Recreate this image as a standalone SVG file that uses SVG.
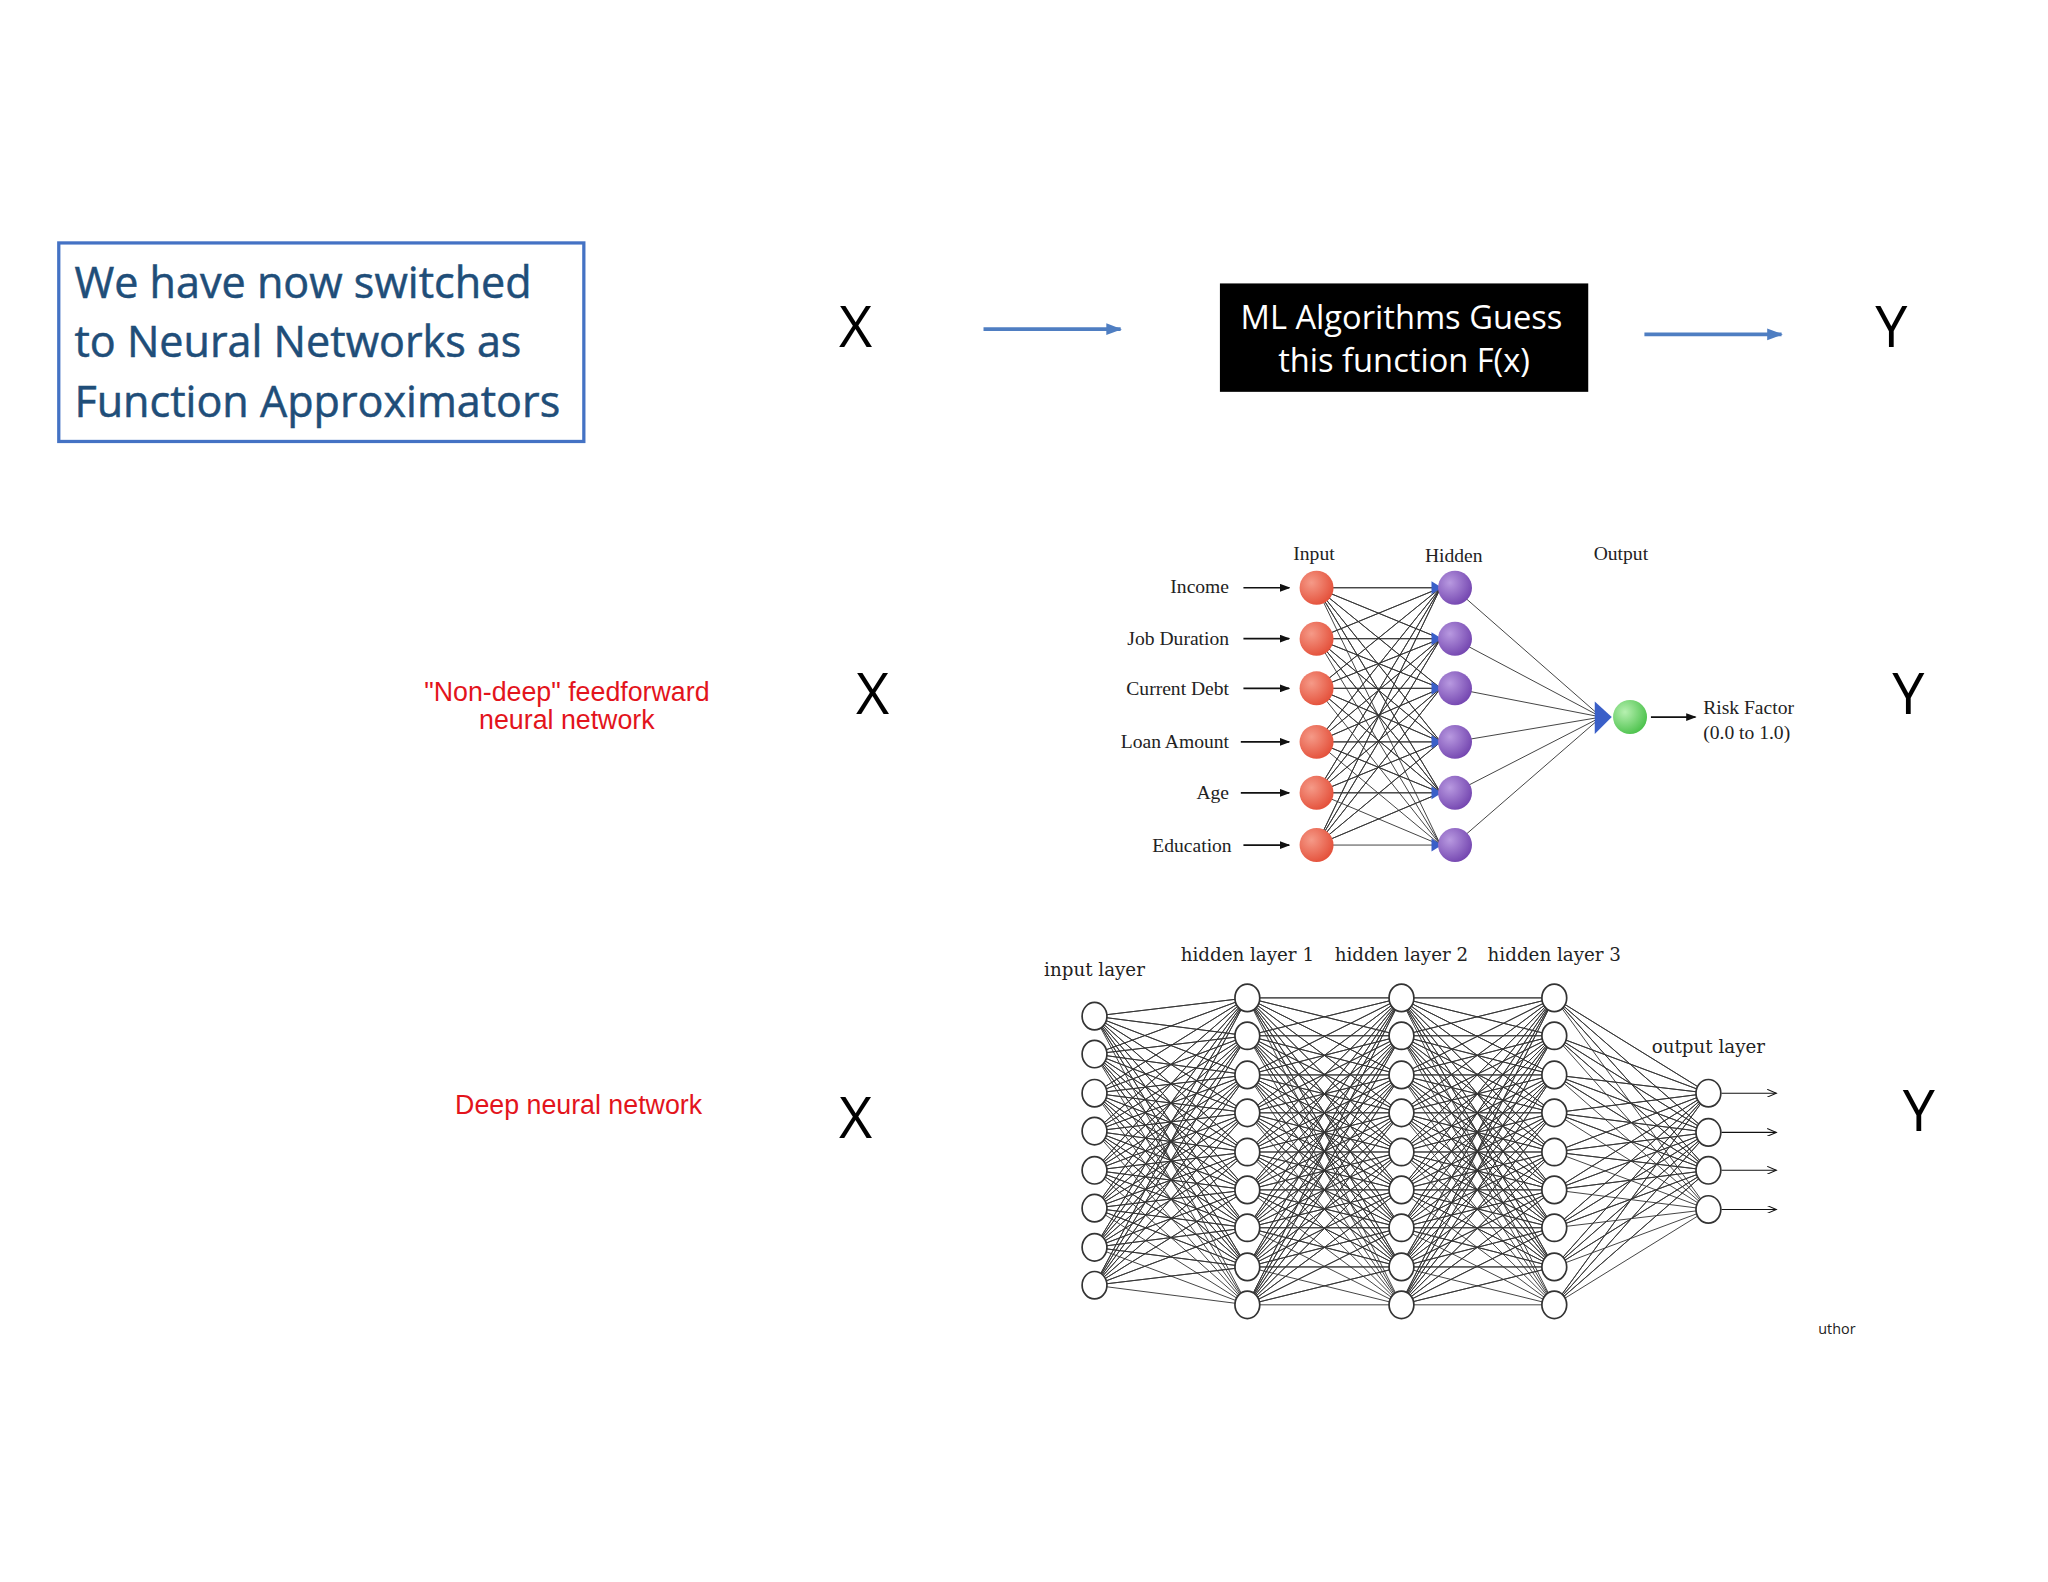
<svg xmlns="http://www.w3.org/2000/svg" width="2048" height="1582" viewBox="0 0 2048 1582">
<defs>
<style>
.ui{font-family:"Open Sans","Noto Sans","Liberation Sans",sans-serif}
.big{font-family:"Open Sans","Liberation Sans",sans-serif;font-size:44px;fill:#000;text-anchor:middle}
.red{font-family:"Liberation Sans",Arial,sans-serif;font-size:20.5px;fill:#e3141c;text-anchor:middle}
.ser{font-family:"Liberation Serif","Times New Roman",serif;font-size:15px;fill:#222}
.lat{font-family:"DejaVu Serif","Liberation Serif",serif;font-size:14px;fill:#222;text-anchor:middle}
.w{stroke:#333;stroke-width:0.7;fill:none}
.dn{fill:#fff;stroke:#333;stroke-width:1.3}
</style>
<radialGradient id="gr" cx="0.35" cy="0.35" r="0.7"><stop offset="0" stop-color="#f59a88"/><stop offset="1" stop-color="#e4503a"/></radialGradient>
<radialGradient id="gp" cx="0.35" cy="0.35" r="0.7"><stop offset="0" stop-color="#b899e0"/><stop offset="1" stop-color="#7446b0"/></radialGradient>
<radialGradient id="gg" cx="0.35" cy="0.35" r="0.7"><stop offset="0" stop-color="#b6f0b0"/><stop offset="1" stop-color="#4cc24c"/></radialGradient>
<marker id="ab" markerWidth="12" markerHeight="12" refX="11" refY="6" orient="auto" markerUnits="userSpaceOnUse"><path d="M0 1.5L12 6L0 10.5z" fill="#4f7ec2"/></marker>
<marker id="ak" markerWidth="8" markerHeight="6" refX="7" refY="3" orient="auto" markerUnits="userSpaceOnUse"><path d="M0 0L8 3L0 6z" fill="#111"/></marker>
<marker id="ao" markerWidth="8" markerHeight="6" refX="7" refY="3" orient="auto" markerUnits="userSpaceOnUse"><path d="M0 0L7 3L0 6" fill="none" stroke="#111" stroke-width="0.8"/></marker>
<clipPath id="cp"><rect x="1392" y="1000" width="60" height="30"/></clipPath>
</defs>
<rect width="2048" height="1582" fill="#fff"/>
<g transform="scale(1.30612)">
<g id="title">
<rect x="45" y="186" width="402" height="152" fill="#fff" stroke="#4472c4" stroke-width="2.5"/>
<text class="ui" font-size="33" fill="#1f4e79" x="57" y="228" stroke="#1f4e79" stroke-width="0.4">We have now switched</text>
<text class="ui" font-size="33" fill="#1f4e79" x="57" y="273" stroke="#1f4e79" stroke-width="0.4">to Neural Networks as</text>
<text class="ui" font-size="33" fill="#1f4e79" x="57" y="319" stroke="#1f4e79" stroke-width="0.4">Function Approximators</text>
</g>
<g id="x1"><text class="big" x="655" y="266">X</text></g>
<g id="ml">
<rect x="934" y="217" width="282" height="83" fill="#000"/>
<text class="ui" font-size="25" fill="#fff" text-anchor="middle" x="1073" y="252">ML Algorithms Guess</text>
<text class="ui" font-size="25" fill="#fff" text-anchor="middle" x="1075" y="285">this function F(x)</text>
</g>
<g id="y1"><text class="big" x="1448" y="266">Y</text></g>
<g id="top-connectors">
<line x1="753" y1="252" x2="858" y2="252" stroke="#4f7ec2" stroke-width="3" marker-end="url(#ab)"/>
<line x1="1259" y1="256" x2="1364" y2="256" stroke="#4f7ec2" stroke-width="3" marker-end="url(#ab)"/>
</g>
<g id="nondeep-label"><text class="red" x="434" y="537">"Non-deep" feedforward</text><text class="red" x="434" y="558">neural network</text></g>
<g id="x2"><text class="big" x="668" y="547">X</text></g>
<g id="y2"><text class="big" x="1461" y="547">Y</text></g>
<g id="deep-label"><text class="red" x="443" y="853">Deep neural network</text></g>
<g id="x3"><text class="big" x="655" y="871">X</text></g>
<g id="y3"><text class="big" x="1469" y="866">Y</text></g>

<g id="small-net">
<g class="ser" text-anchor="end">
<text x="941" y="454">Income</text><text x="941" y="494">Job Duration</text><text x="941" y="532">Current Debt</text>
<text x="941" y="573">Loan Amount</text><text x="941" y="612">Age</text><text x="943" y="652">Education</text>
</g>
<g class="ser" font-size="16" text-anchor="middle"><text x="1006" y="429">Input</text><text x="1113" y="430">Hidden</text><text x="1241" y="429">Output</text></g>
<text class="ser" x="1304" y="547">Risk Factor</text><text class="ser" x="1304" y="566">(0.0 to 1.0)</text>
<g stroke="#111" stroke-width="1.3" marker-end="url(#ak)">
<line x1="952" y1="450" x2="987" y2="450"/><line x1="952" y1="489" x2="987" y2="489"/><line x1="952" y1="527" x2="987" y2="527"/>
<line x1="950" y1="568" x2="987" y2="568"/><line x1="950" y1="607" x2="987" y2="607"/><line x1="952" y1="647" x2="987" y2="647"/>
<line x1="1264" y1="549" x2="1298" y2="549"/>
</g>
<path class="w" stroke="#444" d="
M1008 450L1103 450L1008 450L1103 489L1008 450L1103 527L1008 450L1103 568L1008 450L1103 607L1008 450L1103 647
M1008 489L1103 450L1008 489L1103 489L1008 489L1103 527L1008 489L1103 568L1008 489L1103 607L1008 489L1103 647
M1008 527L1103 450L1008 527L1103 489L1008 527L1103 527L1008 527L1103 568L1008 527L1103 607L1008 527L1103 647
M1008 568L1103 450L1008 568L1103 489L1008 568L1103 527L1008 568L1103 568L1008 568L1103 607L1008 568L1103 647
M1008 607L1103 450L1008 607L1103 489L1008 607L1103 527L1008 607L1103 568L1008 607L1103 607L1008 607L1103 647
M1008 647L1103 450L1008 647L1103 489L1008 647L1103 527L1008 647L1103 568L1008 647L1103 607L1008 647L1103 647
M1113 450L1226 549M1113 489L1226 549M1113 527L1226 549M1113 568L1226 549M1113 607L1226 549M1113 647L1226 549"/>
<g fill="#3a5fc8">
<path d="M1096 445L1104 450L1096 455z"/><path d="M1096 484L1104 489L1096 494z"/><path d="M1096 522L1104 527L1096 532z"/>
<path d="M1096 563L1104 568L1096 573z"/><path d="M1096 602L1104 607L1096 612z"/><path d="M1096 642L1104 647L1096 652z"/>
<path d="M1221 537L1234 549L1221 562z"/>
</g>
<g fill="url(#gr)"><circle cx="1008" cy="450" r="13"/><circle cx="1008" cy="489" r="13"/><circle cx="1008" cy="527" r="13"/><circle cx="1008" cy="568" r="13"/><circle cx="1008" cy="607" r="13"/><circle cx="1008" cy="647" r="13"/></g>
<g fill="url(#gp)"><circle cx="1114" cy="450" r="13"/><circle cx="1114" cy="489" r="13"/><circle cx="1114" cy="527" r="13"/><circle cx="1114" cy="568" r="13"/><circle cx="1114" cy="607" r="13"/><circle cx="1114" cy="647" r="13"/></g>
<circle cx="1248" cy="549" r="13" fill="url(#gg)"/>
</g>

<g id="deep-net">
<g class="lat"><text x="838" y="747">input layer</text><text x="955" y="736">hidden layer 1</text><text x="1073" y="736">hidden layer 2</text><text x="1190" y="736">hidden layer 3</text><text x="1308" y="806">output layer</text></g>
<text class="ui" font-size="11" fill="#222" x="1386" y="1021" clip-path="url(#cp)">author</text>
<g id="deep-connectors">
<path class="w" d="
M838 778L955 764L838 778L955 793L838 778L955 823L838 778L955 852L838 778L955 882L838 778L955 911L838 778L955 940L838 778L955 970L838 778L955 999
M838 807L955 764L838 807L955 793L838 807L955 823L838 807L955 852L838 807L955 882L838 807L955 911L838 807L955 940L838 807L955 970L838 807L955 999
M838 837L955 764L838 837L955 793L838 837L955 823L838 837L955 852L838 837L955 882L838 837L955 911L838 837L955 940L838 837L955 970L838 837L955 999
M838 866L955 764L838 866L955 793L838 866L955 823L838 866L955 852L838 866L955 882L838 866L955 911L838 866L955 940L838 866L955 970L838 866L955 999
M838 896L955 764L838 896L955 793L838 896L955 823L838 896L955 852L838 896L955 882L838 896L955 911L838 896L955 940L838 896L955 970L838 896L955 999
M838 925L955 764L838 925L955 793L838 925L955 823L838 925L955 852L838 925L955 882L838 925L955 911L838 925L955 940L838 925L955 970L838 925L955 999
M838 955L955 764L838 955L955 793L838 955L955 823L838 955L955 852L838 955L955 882L838 955L955 911L838 955L955 940L838 955L955 970L838 955L955 999
M838 984L955 764L838 984L955 793L838 984L955 823L838 984L955 852L838 984L955 882L838 984L955 911L838 984L955 940L838 984L955 970L838 984L955 999"/>
<path id="hh" class="w" d="
M955 764L1073 764L955 764L1073 793L955 764L1073 823L955 764L1073 852L955 764L1073 882L955 764L1073 911L955 764L1073 940L955 764L1073 970L955 764L1073 999
M955 793L1073 764L955 793L1073 793L955 793L1073 823L955 793L1073 852L955 793L1073 882L955 793L1073 911L955 793L1073 940L955 793L1073 970L955 793L1073 999
M955 823L1073 764L955 823L1073 793L955 823L1073 823L955 823L1073 852L955 823L1073 882L955 823L1073 911L955 823L1073 940L955 823L1073 970L955 823L1073 999
M955 852L1073 764L955 852L1073 793L955 852L1073 823L955 852L1073 852L955 852L1073 882L955 852L1073 911L955 852L1073 940L955 852L1073 970L955 852L1073 999
M955 882L1073 764L955 882L1073 793L955 882L1073 823L955 882L1073 852L955 882L1073 882L955 882L1073 911L955 882L1073 940L955 882L1073 970L955 882L1073 999
M955 911L1073 764L955 911L1073 793L955 911L1073 823L955 911L1073 852L955 911L1073 882L955 911L1073 911L955 911L1073 940L955 911L1073 970L955 911L1073 999
M955 940L1073 764L955 940L1073 793L955 940L1073 823L955 940L1073 852L955 940L1073 882L955 940L1073 911L955 940L1073 940L955 940L1073 970L955 940L1073 999
M955 970L1073 764L955 970L1073 793L955 970L1073 823L955 970L1073 852L955 970L1073 882L955 970L1073 911L955 970L1073 940L955 970L1073 970L955 970L1073 999
M955 999L1073 764L955 999L1073 793L955 999L1073 823L955 999L1073 852L955 999L1073 882L955 999L1073 911L955 999L1073 940L955 999L1073 970L955 999L1073 999"/>
<use href="#hh" transform="translate(117 0)"/>
<path class="w" stroke-width="1" d="
M1190 764L1308 837L1190 764L1308 867L1190 764L1308 896L1190 764L1308 926
M1190 793L1308 837L1190 793L1308 867L1190 793L1308 896L1190 793L1308 926
M1190 823L1308 837L1190 823L1308 867L1190 823L1308 896L1190 823L1308 926
M1190 852L1308 837L1190 852L1308 867L1190 852L1308 896L1190 852L1308 926
M1190 882L1308 837L1190 882L1308 867L1190 882L1308 896L1190 882L1308 926
M1190 911L1308 837L1190 911L1308 867L1190 911L1308 896L1190 911L1308 926
M1190 940L1308 837L1190 940L1308 867L1190 940L1308 896L1190 940L1308 926
M1190 970L1308 837L1190 970L1308 867L1190 970L1308 896L1190 970L1308 926
M1190 999L1308 837L1190 999L1308 867L1190 999L1308 896L1190 999L1308 926"/>
<g stroke="#111" stroke-width="0.9" marker-end="url(#ao)">
<line x1="1318" y1="837" x2="1360" y2="837"/><line x1="1318" y1="867" x2="1360" y2="867"/><line x1="1318" y1="896" x2="1360" y2="896"/><line x1="1318" y1="926" x2="1360" y2="926"/>
</g>
</g>
<g id="deep-nodes">
<g id="in"><ellipse class="dn" cx="838" cy="778" rx="9.5" ry="10.5"/><ellipse class="dn" cx="838" cy="807" rx="9.5" ry="10.5"/><ellipse class="dn" cx="838" cy="837" rx="9.5" ry="10.5"/><ellipse class="dn" cx="838" cy="866" rx="9.5" ry="10.5"/><ellipse class="dn" cx="838" cy="896" rx="9.5" ry="10.5"/><ellipse class="dn" cx="838" cy="925" rx="9.5" ry="10.5"/><ellipse class="dn" cx="838" cy="955" rx="9.5" ry="10.5"/><ellipse class="dn" cx="838" cy="984" rx="9.5" ry="10.5"/></g>
<g id="h1"><ellipse class="dn" cx="955" cy="764" rx="9.5" ry="10.5"/><ellipse class="dn" cx="955" cy="793" rx="9.5" ry="10.5"/><ellipse class="dn" cx="955" cy="823" rx="9.5" ry="10.5"/><ellipse class="dn" cx="955" cy="852" rx="9.5" ry="10.5"/><ellipse class="dn" cx="955" cy="882" rx="9.5" ry="10.5"/><ellipse class="dn" cx="955" cy="911" rx="9.5" ry="10.5"/><ellipse class="dn" cx="955" cy="940" rx="9.5" ry="10.5"/><ellipse class="dn" cx="955" cy="970" rx="9.5" ry="10.5"/><ellipse class="dn" cx="955" cy="999" rx="9.5" ry="10.5"/></g>
<use href="#h1" transform="translate(118 0)"/>
<use href="#h1" transform="translate(235 0)"/>
<g id="out"><ellipse class="dn" cx="1308" cy="837" rx="9.5" ry="10.5"/><ellipse class="dn" cx="1308" cy="867" rx="9.5" ry="10.5"/><ellipse class="dn" cx="1308" cy="896" rx="9.5" ry="10.5"/><ellipse class="dn" cx="1308" cy="926" rx="9.5" ry="10.5"/></g>
</g>
</g>
</g>
</svg>
